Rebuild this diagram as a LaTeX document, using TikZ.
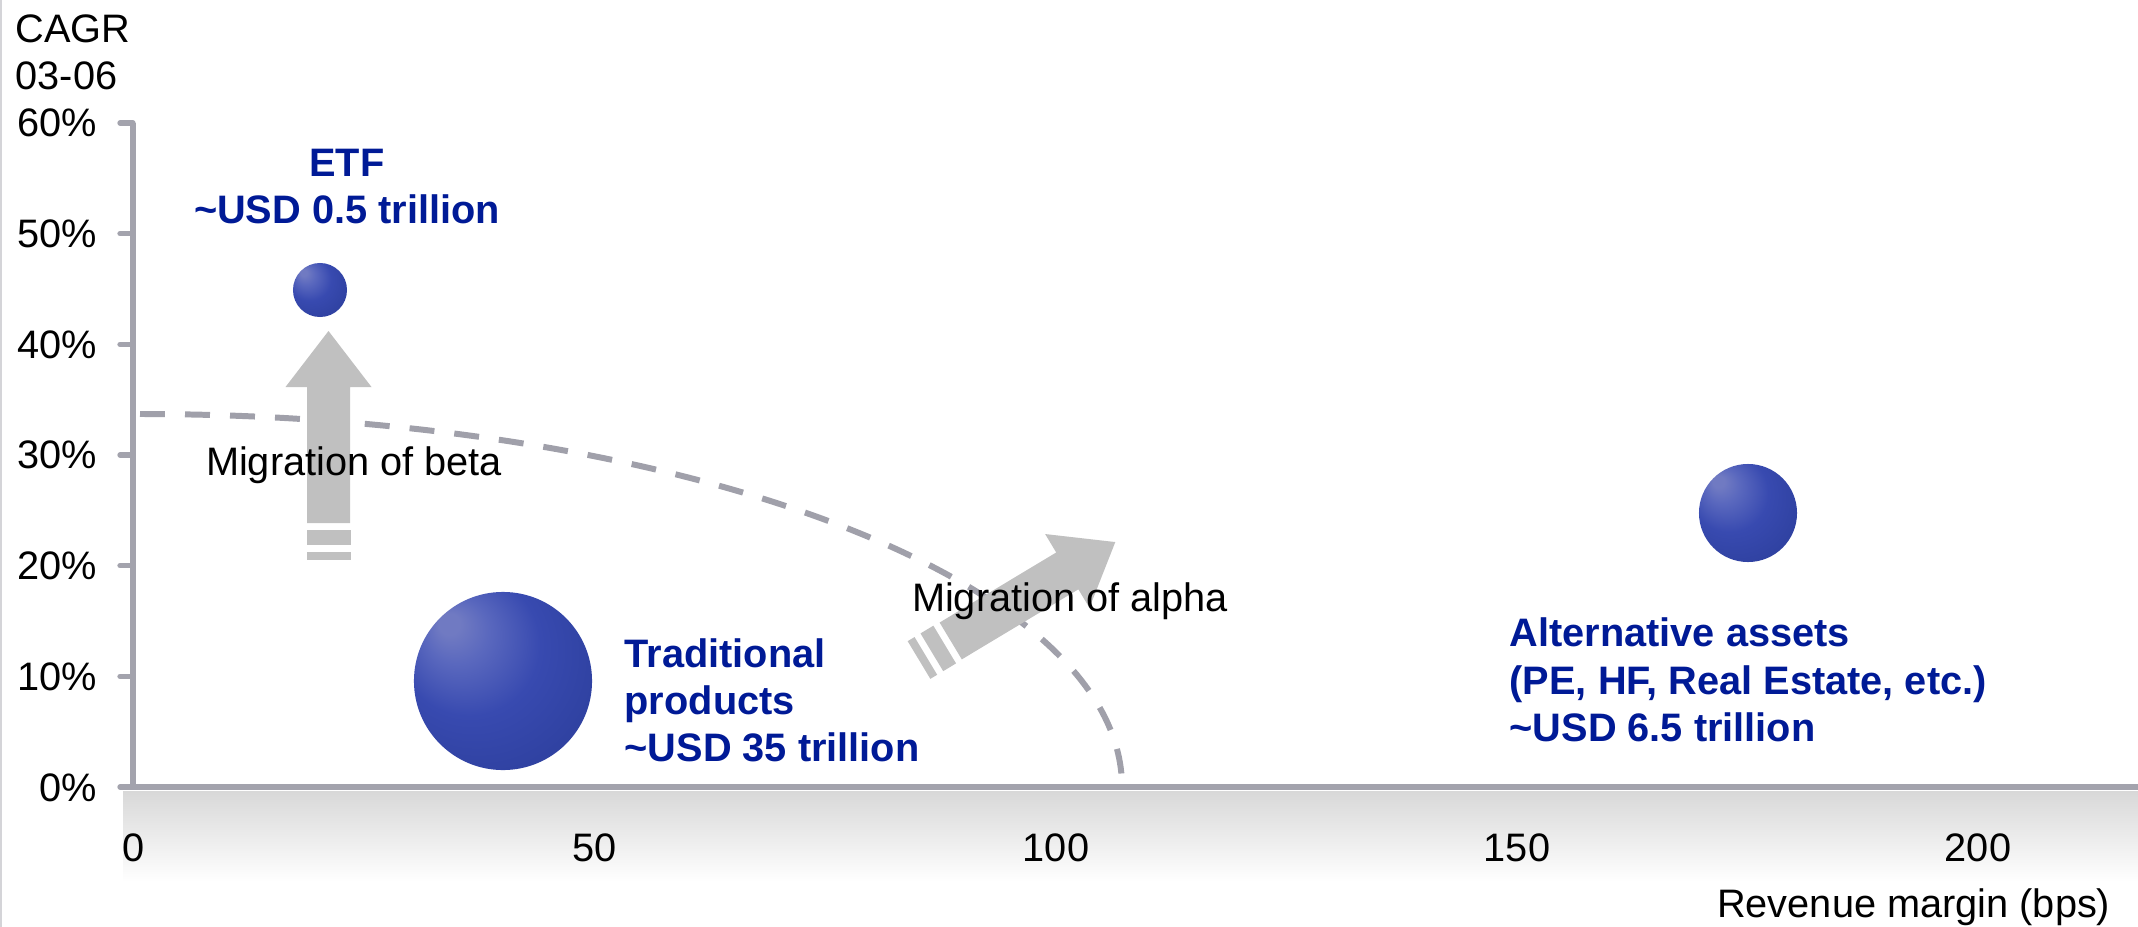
\documentclass[tikz,border=0pt]{standalone}
\usepackage{fontspec}
\setmainfont{Liberation Sans}
\definecolor{axisgray}{RGB}{163,163,173}
\definecolor{dashgray}{RGB}{160,160,170}
\definecolor{arrowgray}{RGB}{192,192,192}
\definecolor{labelblue}{RGB}{0,26,150}
\definecolor{bordergray}{RGB}{212,212,216}
\definecolor{bandgray}{RGB}{216,216,216}
\definecolor{bhi}{RGB}{112,122,194}
\definecolor{bhib}{RGB}{90,104,190}
\definecolor{bmid}{RGB}{56,74,176}
\definecolor{bmidb}{RGB}{48,66,162}
\definecolor{bouter}{RGB}{40,56,140}
\definecolor{bedge}{RGB}{34,48,118}
\pgfdeclareradialshading{bubshade}{\pgfpoint{-16bp}{17bp}}{color(0bp)=(bhi); color(3bp)=(bhi); color(9bp)=(bhib); color(20bp)=(bmid); color(32bp)=(bmidb); color(44bp)=(bouter); color(50bp)=(bedge)}
\tikzset{
  lab/.style={font=\fontsize{11.3}{13.4}\selectfont, inner sep=0pt, text=black},
  blab/.style={font=\fontsize{11.3}{13.4}\selectfont\bfseries, inner sep=0pt, text=labelblue},
  axisline/.style={draw=axisgray, line width=1.5pt},
  dashline/.style={draw=dashgray, line width=1.7pt, dash pattern=on 7.1pt off 5.7pt},
  bubblenode/.style={circle, inner sep=0pt, shading=bubshade},
  migarrow/.pic={
    \fill[arrowgray] (-22,0) rectangle (22,-8);
    \fill[arrowgray] (-22,-15) rectangle (22,-30);
    \fill[arrowgray] (-21.5,-37) -- (21.5,-37) -- (21.5,-173) -- (43,-173) -- (0,-229) -- (-43,-173) -- (-21.5,-173) -- cycle;
  }
}
\begin{document}
\begin{tikzpicture}[x=0.01cm, y=-0.01cm]
\useasboundingbox (0,0) rectangle (2138,927);
\fill[white] (0,0) rectangle (2138,927);
% left border
\draw[bordergray, line width=0.6pt] (1,0) -- (1,927);
% band under x axis
\shade[top color=bandgray, bottom color=white] (123,791) rectangle (2138,882);
% axes
\draw[axisline] (133,123) -- (133,787);
\draw[axisline, line width=1.7pt] (120,787) -- (2138,787);
\foreach \t/\l in {0/0,1/10,2/20,3/30,4/40,5/50,6/60}{
  \draw[axisline, line cap=round] (120,{787-110.67*\t}) -- (133,{787-110.67*\t});
  \node[lab, anchor=base east] (ty\t) at (98,{787-110.67*\t+14}) {\l\%};
}
\foreach \v/\x in {0/134,50/595,100/1056,150/1517,200/1978}{
  \node[lab, anchor=base] (tx\v) at (\x,861) {\v};
}
\node[lab, anchor=base west] (cagr1) at (15,42) {CAGR};
\node[lab, anchor=base west] (cagr2) at (15,89) {03-06};
\node[lab, anchor=base east] (xtitle) at (2111,917) {Revenue margin (bps)};
% dashed frontier
\draw[dashline] (140,414) arc[start angle=-90, end angle=0, x radius=982, y radius=373];
% migration arrows
\pic at (328.5,560) {migarrow};
\pic[rotate=-59] at (919,660) {migarrow};
% bubbles
\node[bubblenode, minimum size=0.54cm] (etf) at (320,290) {};
\node[bubblenode, minimum size=1.78cm] (trad) at (503,681) {};
\node[bubblenode, minimum size=0.98cm] (alt) at (1748,513) {};
% labels
\node[lab, anchor=base] (mbeta) at (354,475) {Migration of beta};
\node[lab, anchor=base] (malpha) at (1070,611) {Migration of alpha};
\node[blab, anchor=base] (etf1) at (347,176) {ETF};
\node[blab, anchor=base] (etf2) at (347,223) {\textasciitilde USD 0.5 trillion};
\node[blab, anchor=base west] (trad1) at (624,667) {Traditional};
\node[blab, anchor=base west] (trad2) at (624,714) {products};
\node[blab, anchor=base west] (trad3) at (624,761) {\textasciitilde USD 35 trillion};
\node[blab, anchor=base west] (alt1) at (1509,646) {Alternative assets};
\node[blab, anchor=base west] (alt2) at (1509,694) {(PE, HF, Real Estate, etc.)};
\node[blab, anchor=base west] (alt3) at (1509,741) {\textasciitilde USD 6.5 trillion};
\end{tikzpicture}
\end{document}
